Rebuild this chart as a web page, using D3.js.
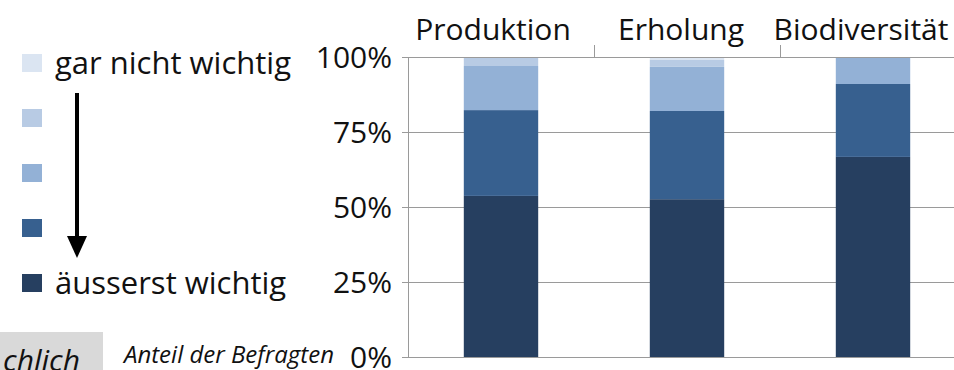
<!DOCTYPE html>
<html>
<head>
<meta charset="utf-8">
<script src="https://cdn.jsdelivr.net/npm/d3@7"></script>
<style>
  html, body { margin: 0; padding: 0; background: #fff; }
  svg { display: block; font-family: "Open Sans", Lato, sans-serif; }
</style>
</head>
<body>
<svg id="chart" width="954" height="370"></svg>
<script>
// Categories (top axis)
const categories = ["Produktion", "Erholung", "Biodiversität"];
// Rating levels, from most to least important (stack order bottom → top)
const levels = ["äusserst wichtig", "sehr wichtig", "mittel", "wenig wichtig", "gar nicht wichtig"];
// Share of respondents per level, in the order of `categories`
const aeusserstWichtig = [0.537, 0.526, 0.667];
const sehrWichtig      = [0.286, 0.294, 0.243];
const mittel           = [0.147, 0.147, 0.090];
const wenigWichtig     = [0.030, 0.023, 0.000];
const garNichtWichtig  = [0.000, 0.010, 0.000];
const yTicks = [0, 0.25, 0.5, 0.75, 1];
const legendLabels = ["gar nicht wichtig", "", "", "", "äusserst wichtig"];

const colors = ["#263f60", "#37608f", "#93b1d6", "#b8cbe4", "#dbe5f2"];
const seriesValues = [aeusserstWichtig, sehrWichtig, mittel, wenigWichtig, garNichtWichtig];
const FONT = '"Open Sans", Lato, sans-serif';

const rows = categories.map((c, i) => {
  const r = { category: c };
  levels.forEach((l, k) => r[l] = seriesValues[k][i]);
  return r;
});
const stacked = d3.stack().keys(levels)(rows);

const svg = d3.select("#chart");
const x = d3.scaleBand().domain(categories).range([408, 966]).paddingInner(0.6).paddingOuter(0.3);
const y = d3.scaleLinear().domain([0, 1]).range([357, 57]);
const color = d3.scaleOrdinal().domain(levels).range(colors);

// Horizontal gridlines
svg.append("g")
  .selectAll("line")
  .data(yTicks.filter(t => t > 0 && t < 1))
  .join("line")
  .attr("x1", 408).attr("x2", 954)
  .attr("y1", d => y(d) + 0.5).attr("y2", d => y(d) + 0.5)
  .attr("stroke", "#9a9a9a").attr("stroke-width", 1);

// Bars
svg.append("g")
  .selectAll("g")
  .data(stacked)
  .join("g")
  .attr("fill", d => color(d.key))
  .selectAll("rect")
  .data(d => d)
  .join("rect")
  .attr("x", d => x(d.data.category))
  .attr("width", x.bandwidth())
  .attr("y", d => y(d[1]))
  .attr("height", d => y(d[0]) - y(d[1]));

// Left value axis
const yAxis = svg.append("g")
  .attr("transform", "translate(408,0)")
  .call(d3.axisLeft(y).tickValues(yTicks).tickFormat(d3.format(".0%")).tickSize(6).tickPadding(10))
  .attr("font-family", FONT);
yAxis.select(".domain").attr("stroke", "#9a9a9a");
yAxis.selectAll(".tick line").attr("stroke", "#9a9a9a");
yAxis.selectAll(".tick text")
  .attr("font-size", 30).attr("fill", "#111").attr("dy", "0.36em");

// Bottom baseline
svg.append("line")
  .attr("x1", 402).attr("x2", 954)
  .attr("y1", y(0) + 0.5).attr("y2", y(0) + 0.5)
  .attr("stroke", "#9a9a9a");

// Top category axis
const xAxis = svg.append("g")
  .attr("transform", `translate(0,${y(1)})`)
  .call(d3.axisTop(x).tickSize(0).tickPadding(17))
  .attr("font-family", FONT);
xAxis.select(".domain").attr("d", `M402,0.5H954`).attr("stroke", "#9a9a9a");
xAxis.selectAll(".tick text")
  .attr("font-size", 30).attr("fill", "#111")
  .attr("transform", (d, i) => `translate(${[-8, -6, -12][i]},0)`);
// Category separators on the top axis
svg.append("g")
  .selectAll("line")
  .data(categories.slice(1))
  .join("line")
  .attr("x1", d => x(d) - x.step() * x.paddingInner() / 2 + 0.5)
  .attr("x2", d => x(d) - x.step() * x.paddingInner() / 2 + 0.5)
  .attr("y1", y(1) - 12).attr("y2", y(1))
  .attr("stroke", "#9a9a9a");

// Legend
const legend = svg.append("g");
const legendOrder = levels.slice().reverse();
const ly = d3.scalePoint().domain(legendOrder).range([63, 283]);
legend.selectAll("rect")
  .data(legendOrder)
  .join("rect")
  .attr("x", 22).attr("y", d => ly(d) - 9)
  .attr("width", 20).attr("height", 18)
  .attr("fill", d => color(d));
legend.selectAll("text")
  .data(legendOrder)
  .join("text")
  .attr("x", 55).attr("y", d => ly(d))
  .attr("dy", "0.36em")
  .attr("font-size", 31).attr("fill", "#111")
  .text((d, i) => legendLabels[i]);

// Arrow from "gar nicht wichtig" down to "äusserst wichtig"
svg.append("line")
  .attr("x1", 77).attr("x2", 77).attr("y1", 93).attr("y2", 238)
  .attr("stroke", "#000").attr("stroke-width", 4);
svg.append("path")
  .attr("d", "M67,236 L87,236 L77,258 Z")
  .attr("fill", "#000");

// Bottom-left notes
svg.append("rect").attr("x", 0).attr("y", 332).attr("width", 103).attr("height", 40).attr("fill", "#d9d9d9");
svg.append("text")
  .attr("x", 80).attr("y", 371).attr("text-anchor", "end")
  .attr("font-size", 30).attr("font-style", "italic").attr("fill", "#111")
  .text("chlich");
svg.append("text")
  .attr("x", 334).attr("y", 363).attr("text-anchor", "end")
  .attr("font-size", 24).attr("font-style", "italic").attr("fill", "#111")
  .text("Anteil der Befragten");
</script>
</body>
</html>
